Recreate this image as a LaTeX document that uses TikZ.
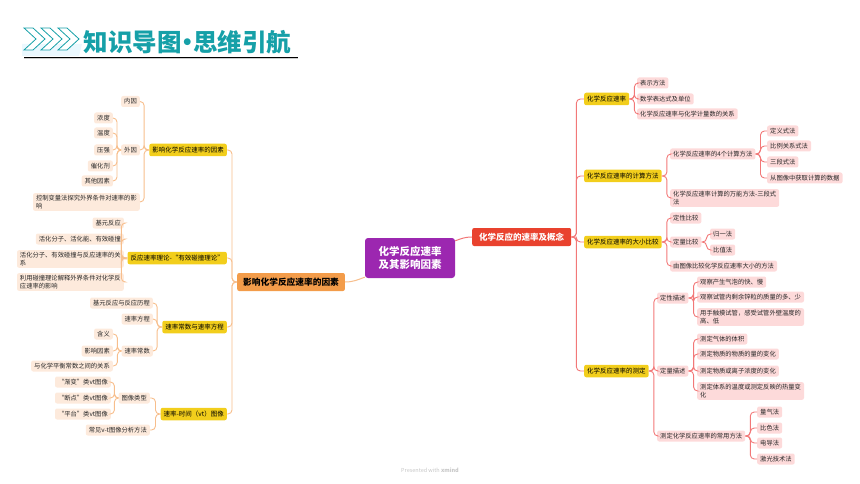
\documentclass[tikz,border=0pt]{standalone}
\usepackage{fontspec}
\setmainfont{Noto Sans CJK SC}
\usetikzlibrary{positioning}

\definecolor{tituloTeal}{RGB}{22,160,168}
\definecolor{morado}{RGB}{156,39,176}
\definecolor{rojoMain}{RGB}{233,66,46}
\definecolor{naranjaMain}{RGB}{243,156,74}
\definecolor{amarillo}{RGB}{242,206,28}
\definecolor{durazno}{RGB}{253,234,220}
\definecolor{lineaIzq}{RGB}{247,190,140}
\definecolor{rosa}{RGB}{253,218,218}
\definecolor{lineaDer}{RGB}{242,120,120}

\begin{document}
\begin{tikzpicture}[
    x=1pt, y=-1pt,
    font=\fontsize{6.3}{7.8}\selectfont,
    hub/.style={fill=amarillo, rounded corners=2pt, inner xsep=3pt, inner ysep=1pt,
      minimum height=12.5pt, font=\fontsize{6.5}{8}\selectfont},
    hojaL/.style={fill=durazno, rounded corners=2pt, inner xsep=3pt, inner ysep=2pt,
      minimum height=11pt, align=left, text=black!85},
    hojaR/.style={hojaL, fill=rosa},
    lnL/.style={draw=lineaIzq, line width=0.9pt, rounded corners=4pt},
    lnR/.style={draw=lineaDer, line width=0.9pt, rounded corners=4pt}
  ]

    \useasboundingbox (0,0) rectangle (860,484);

    % --- Cabecera ---
    \fill[cyan!8] (22,44) -- (82,44) -- (79,56) -- (22,56) -- cycle;
    \foreach \dx in {0,17,34} {
      \draw[tituloTeal, line width=0.8pt, fill=white] (24+\dx,28) -- ++(9,0) -- ++(12,11)
        -- ++(-12,11) -- ++(-9,0) -- ++(12,-11) -- cycle;
    }
    \node[anchor=west, text=tituloTeal, font=\fontsize{24.5}{24.5}\selectfont\bfseries]
      (titulo) at (80,42) {知识导图\kern-6.5pt·\kern-6.5pt思维引航};
    \draw[gray!40, line width=1pt] (24,59) -- (298,59);
    \draw[line width=1.3pt] (24,57.5) -- (298,57.5);

    % --- Nodo central ---
    \node[fill=morado, rounded corners=3pt, minimum width=90pt, minimum height=40pt,
      text=white, align=center, font=\fontsize{10.5}{13.5}\selectfont\bfseries]
      (centro) at (410,258) {化学反应速率\\及其影响因素};

    \node[fill=rojoMain, rounded corners=2pt, anchor=west, minimum height=18pt, inner xsep=7pt,
      text=white, font=\fontsize{8.5}{10}\selectfont\bfseries]
      (rm) at (472,237) {化学反应的速率及概念};
    \node[fill=naranjaMain, rounded corners=2pt, anchor=west, minimum height=18pt, inner xsep=6pt,
      font=\fontsize{8.7}{10}\selectfont\bfseries]
      (lm) at (237,282) {影响化学反应速率的因素};

    \draw[lineaDer, line width=1pt] ([yshift=-3pt]centro.north east) to[out=20,in=180] (rm.west);
    \draw[lineaIzq, line width=1pt] ([yshift=1pt]centro.south west) to[out=200,in=0] (lm.east);

    % --- Rama izquierda ---
    \node[hub, anchor=east] (ya) at (227,150) {影响化学反应速率的因素};
    \node[hub, anchor=east] (yb) at (227,258) {反应速率理论-“有效碰撞理论”};
    \node[hub, anchor=east] (yc) at (227,327) {速率常数与速率方程};
    \node[hub, anchor=east] (yd) at (227,414) {速率-时间（vt）图像};
    \foreach \n in {ya,yb,yc,yd}
      \draw[lnL] (lm.west) -- ++(-5,0) |- (\n.east);

    \node[hojaL, anchor=east] (a1) at (140,101.5) {内因};
    \node[hojaL, anchor=east] (a2) at (140,150) {外因};
    \node[hojaL, anchor=east] (a3) at (140,202) {控制变量法探究外界条件对速率的影\\响};
    \foreach \n in {a1,a2,a3}
      \draw[lnL] (ya.west) -- ++(-5,0) |- (\n.east);

    \node[hojaL, anchor=east] (b1) at (113,118) {浓度};
    \node[hojaL, anchor=east] (b2) at (113,133) {温度};
    \node[hojaL, anchor=east] (b3) at (113,150) {压强};
    \node[hojaL, anchor=east] (b4) at (113,166) {催化剂};
    \node[hojaL, anchor=east] (b5) at (113,181) {其他因素};
    \foreach \n in {b1,b2,b3,b4,b5}
      \draw[lnL] (a2.west) -- ++(-4,0) |- (\n.east);

    \node[hojaL, anchor=east] (c1) at (124,223) {基元反应};
    \node[hojaL, anchor=east] (c2) at (124,239) {活化分子、活化能、有效碰撞};
    \node[hojaL, anchor=east] (c3) at (124,259) {活化分子、有效碰撞与反应速率的关\\系};
    \node[hojaL, anchor=east] (c4) at (124,282) {利用碰撞理论解释外界条件对化学反\\应速率的影响};
    \foreach \n in {c1,c2,c3,c4}
      \draw[lnL] (yb.west) -- ++(-6,0) |- (\n.east);

    \node[hojaL, anchor=east] (d1) at (153,303) {基元反应与反应历程};
    \node[hojaL, anchor=east] (d2) at (153,319) {速率方程};
    \node[hojaL, anchor=east] (d3) at (153,351) {速率常数};
    \foreach \n in {d1,d2,d3}
      \draw[lnL] (yc.west) -- ++(-5,0) |- (\n.east);

    \node[hojaL, anchor=east] (e1) at (113,334) {含义};
    \node[hojaL, anchor=east] (e2) at (113,351) {影响因素};
    \node[hojaL, anchor=east] (e3) at (113,366) {与化学平衡常数之间的关系};
    \foreach \n in {e1,e2,e3}
      \draw[lnL] (d3.west) -- ++(-4,0) |- (\n.east);

    \node[hojaL, anchor=east] (f1) at (150,398) {图像类型};
    \node[hojaL, anchor=east] (f2) at (150,430) {常见v-t图像分析方法};
    \foreach \n in {f1,f2}
      \draw[lnL] (yd.west) -- ++(-5,0) |- (\n.east);

    \node[hojaL, anchor=east] (g1) at (111,382) {“渐变”类vt图像};
    \node[hojaL, anchor=east] (g2) at (111,398) {“断点”类vt图像};
    \node[hojaL, anchor=east] (g3) at (111,414) {“平台”类vt图像};
    \foreach \n in {g1,g2,g3}
      \draw[lnL] (f1.west) -- ++(-4,0) |- (\n.east);

    % --- Rama derecha ---
    \node[hub, anchor=west] (ra) at (584,99) {化学反应速率};
    \node[hub, anchor=west] (rb) at (584,176) {化学反应速率的计算方法};
    \node[hub, anchor=west] (rc) at (584,242) {化学反应速率的大小比较};
    \node[hub, anchor=west] (rd) at (584,371) {化学反应速率的测定};
    \foreach \n in {ra,rb,rc,rd}
      \draw[lnR] (rm.east) -- ++(5,0) |- (\n.west);

    \node[hojaR, anchor=west] (h1) at (637,83) {表示方法};
    \node[hojaR, anchor=west] (h2) at (637,99) {数学表达式及单位};
    \node[hojaR, anchor=west] (h3) at (637,114) {化学反应速率与化学计量数的关系};
    \foreach \n in {h1,h2,h3}
      \draw[lnR] (ra.east) -- ++(5,0) |- (\n.west);

    \node[hojaR, anchor=west] (i1) at (670,154) {化学反应速率的4个计算方法};
    \node[hojaR, anchor=west] (i2) at (670,198) {化学反应速率计算的万能方法-三段式\\法};
    \foreach \n in {i1,i2}
      \draw[lnR] (rb.east) -- ++(5,0) |- (\n.west);

    \node[hojaR, anchor=west] (j1) at (767,131) {定义式法};
    \node[hojaR, anchor=west] (j2) at (767,146) {比例关系式法};
    \node[hojaR, anchor=west] (j3) at (767,162) {三段式法};
    \node[hojaR, anchor=west] (j4) at (767,178) {从图像中获取计算的数据};
    \foreach \n in {j1,j2,j3,j4}
      \draw[lnR] (i1.east) -- ++(5,0) |- (\n.west);

    \node[hojaR, anchor=west] (k1) at (670,218) {定性比较};
    \node[hojaR, anchor=west] (k2) at (670,242) {定量比较};
    \node[hojaR, anchor=west] (k3) at (670,266) {由图像比较化学反应速率大小的方法};
    \foreach \n in {k1,k2,k3}
      \draw[lnR] (rc.east) -- ++(5,0) |- (\n.west);

    \node[hojaR, anchor=west] (l1) at (710,234) {归一法};
    \node[hojaR, anchor=west] (l2) at (710,250) {比值法};
    \foreach \n in {l1,l2}
      \draw[lnR] (k2.east) -- ++(5,0) |- (\n.west);

    \node[hojaR, anchor=west] (m1) at (657,298) {定性描述};
    \node[hojaR, anchor=west] (m2) at (657,371) {定量描述};
    \node[hojaR, anchor=west] (m3) at (657,436) {测定化学反应速率的常用方法};
    \foreach \n in {m1,m2,m3}
      \draw[lnR] (rd.east) -- ++(5,0) |- (\n.west);

    \node[hojaR, anchor=west] (n1) at (697,282) {观察产生气泡的快、慢};
    \node[hojaR, anchor=west] (n2) at (697,297) {观察试管内剩余锌粒的质量的多、少};
    \node[hojaR, anchor=west] (n3) at (697,317) {用手触摸试管，感受试管外壁温度的\\高、低};
    \foreach \n in {n1,n2,n3}
      \draw[lnR] (m1.east) -- ++(5,0) |- (\n.west);

    \node[hojaR, anchor=west] (o1) at (697,339) {测定气体的体积};
    \node[hojaR, anchor=west] (o2) at (697,354) {测定物质的物质的量的变化};
    \node[hojaR, anchor=west] (o3) at (697,371) {测定物质或离子浓度的变化};
    \node[hojaR, anchor=west] (o4) at (697,391) {测定体系的温度或测定反映的热量变\\化};
    \foreach \n in {o1,o2,o3,o4}
      \draw[lnR] (m2.east) -- ++(5,0) |- (\n.west);

    \node[hojaR, anchor=west] (p1) at (757,412) {量气法};
    \node[hojaR, anchor=west] (p2) at (757,428) {比色法};
    \node[hojaR, anchor=west] (p3) at (757,443) {电导法};
    \node[hojaR, anchor=west] (p4) at (757,459) {激光技术法};
    \foreach \n in {p1,p2,p3,p4}
      \draw[lnR] (m3.east) -- ++(5,0) |- (\n.west);

    % --- Marca de agua ---
    \node[text=gray!45, font=\fontsize{5.5}{6}\selectfont] (marca) at (430,470)
      {Presented with \textbf{xmind}};

  \end{tikzpicture}
\end{document}
